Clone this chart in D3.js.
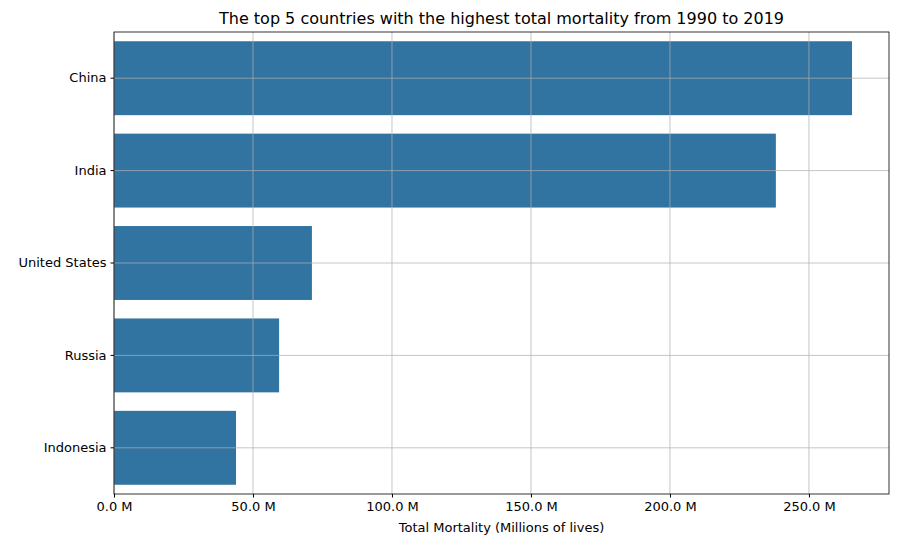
<!DOCTYPE html>
<html><head><meta charset="utf-8">
<script src="https://cdn.jsdelivr.net/npm/d3@7"></script>
<style>body{margin:0;background:#fff}svg{font-family:"DejaVu Sans",sans-serif}</style>
</head><body><svg id="c" width="898" height="547"></svg>
<script>
const countries = ["China","India","United States","Russia","Indonesia"];
const mortality = [265.5, 238.1, 71.2, 59.4, 43.9];
const xTicks = [0,50,100,150,200,250];
const svg = d3.select("#c");
const L=114,R=889,T=32,B=494;
const x = d3.scaleLinear().domain([0,278.8]).range([L,R]);
const y = d3.scaleBand().domain(countries).range([T,B]).paddingInner(0.2).paddingOuter(0.1);
svg.selectAll("rect.bar").data(countries).join("rect").attr("class","bar")
 .attr("x",x(0)).attr("y",d=>y(d)).attr("height",y.bandwidth())
 .attr("width",(d,i)=>x(mortality[i])-x(0)).attr("fill","#3274a1");
const g=svg.append("g").attr("stroke","#b0b0b0").attr("stroke-width",0.8).attr("opacity",0.9);
xTicks.forEach(t=>g.append("line").attr("x1",x(t)).attr("x2",x(t)).attr("y1",T).attr("y2",B));
countries.forEach(c=>{const yy=y(c)+y.bandwidth()/2;g.append("line").attr("x1",L).attr("x2",R).attr("y1",yy).attr("y2",yy);});
svg.append("rect").attr("x",L).attr("y",T).attr("width",R-L).attr("height",B-T).attr("fill","none").attr("stroke","#000").attr("stroke-width",0.8);
const xa=svg.append("g").attr("transform",`translate(0,${B})`).call(d3.axisBottom(x).tickValues(xTicks).tickSize(3.5).tickPadding(4).tickFormat(d=>d.toFixed(1)+" M"));
const ya=svg.append("g").attr("transform",`translate(${L},0)`).call(d3.axisLeft(y).tickSize(3.5).tickPadding(4));
[xa,ya].forEach(a=>{a.select(".domain").remove();a.selectAll("text").attr("font-size",13).attr("fill","#000").attr("font-family","DejaVu Sans");a.selectAll("line").attr("stroke","#000");});
svg.append("text").attr("x",(L+R)/2).attr("y",532).attr("text-anchor","middle").attr("font-size",13).text("Total Mortality (Millions of lives)");
svg.append("text").attr("x",(L+R)/2).attr("y",24).attr("text-anchor","middle").attr("font-size",16).text("The top 5 countries with the highest total mortality from 1990 to 2019");
</script></body></html>
